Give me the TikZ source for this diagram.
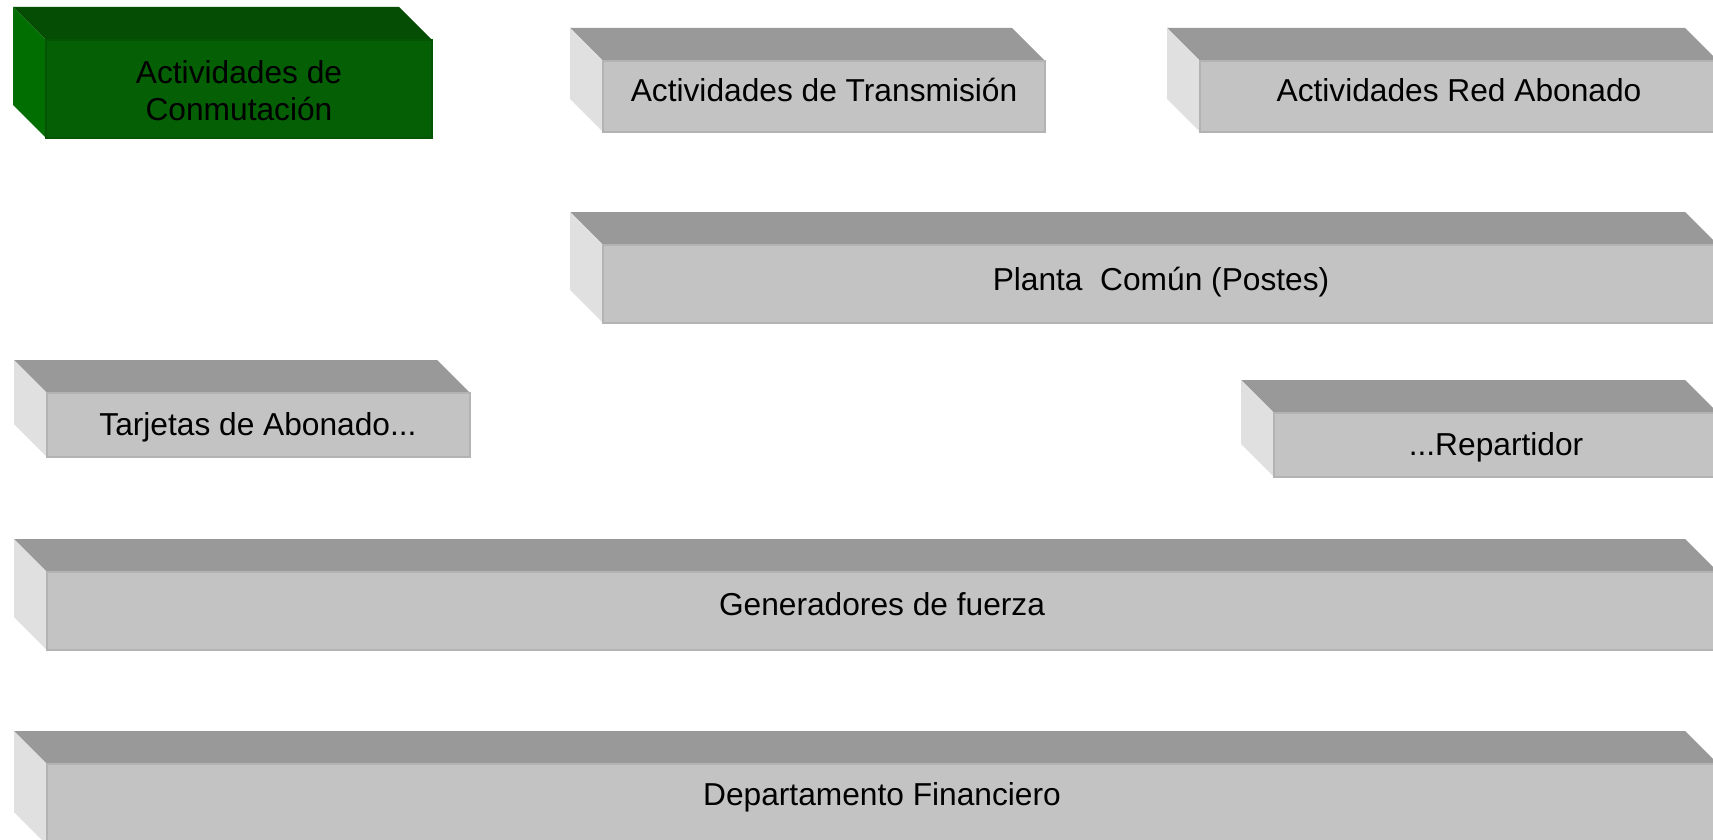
\documentclass[tikz,border=0pt]{standalone}
\usepackage{fontspec}
\setmainfont{Liberation Sans}
\definecolor{gtop}{HTML}{999999}
\definecolor{gfront}{HTML}{C3C3C3}
\definecolor{gside}{HTML}{E0E0E0}
\definecolor{gedge}{HTML}{B3B3B3}
\definecolor{vtop}{HTML}{054C05}
\definecolor{vfront}{HTML}{055F05}
\definecolor{vside}{HTML}{006E00}
\definecolor{vedge}{HTML}{045404}
\tikzset{
  lbl/.style={inner sep=0pt, font=\fontsize{31.7}{37}\selectfont, text=black},
  facebox/.style={inner sep=0pt, outer sep=0pt, anchor=north west},
}
% #1 name, #2 x1, #3 y1, #4 x2, #5 y2, #6 colour prefix (g or v)
\newcommand\slabbox[6]{%
  \node[facebox, minimum width={(#4-#2)*1pt}, minimum height={(#5-#3)*1pt}] (#1) at (#2,#3) {};
  \fill[#6top] (#1.north west) -- ++(-33,-33) -- ([xshift=-33pt,yshift=33pt]#1.north east) -- (#1.north east) -- cycle;
  \fill[#6side] (#1.north west) -- ++(-33,-33) -- ([xshift=-33pt,yshift=33pt]#1.south west) -- (#1.south west) -- cycle;
  \fill[#6front] (#1.north west) rectangle (#1.south east);
  \draw[#6edge, line width=1.5pt] (#1.south west) -- (#1.north west) -- (#1.north east) -- (#1.south east) -- cycle;
}
\begin{document}
\begin{tikzpicture}[x=1pt,y=-1pt]
\useasboundingbox (0,0) rectangle (1713,840);
\fill[white] (0,0) rectangle (1713,840);

\slabbox{conm}{46}{40}{432}{138}{v}
\node[lbl, align=center, anchor=base] (conmT) at (239,121) {Actividades de\\Conmutación};

\slabbox{trans}{603}{61}{1045}{132}{g}
\node[lbl, anchor=base] (transT) at (824,102) {Actividades de Transmisión};

\slabbox{red}{1200}{61}{1718}{132}{g}
\node[lbl, anchor=base] (redT) at (1459,102) {Actividades Red Abonado};

\slabbox{planta}{603}{245}{1718}{323}{g}
\node[lbl, anchor=base] (plantaT) at (1161,290) {Planta~ Común (Postes)};

\slabbox{tarj}{47}{393}{470}{457}{g}
\node[lbl, anchor=base] (tarjT) at (258,435) {Tarjetas de Abonado...};

\slabbox{rep}{1274}{413}{1718}{477}{g}
\node[lbl, anchor=base] (repT) at (1496,455) {...Repartidor};

\slabbox{gen}{47}{572}{1718}{650}{g}
\node[lbl, anchor=base] (genT) at (882,615) {Generadores de fuerza};

\slabbox{dep}{47}{764}{1718}{845}{g}
\node[lbl, anchor=base] (depT) at (882,805) {Departamento Financiero};
\end{tikzpicture}
\end{document}
